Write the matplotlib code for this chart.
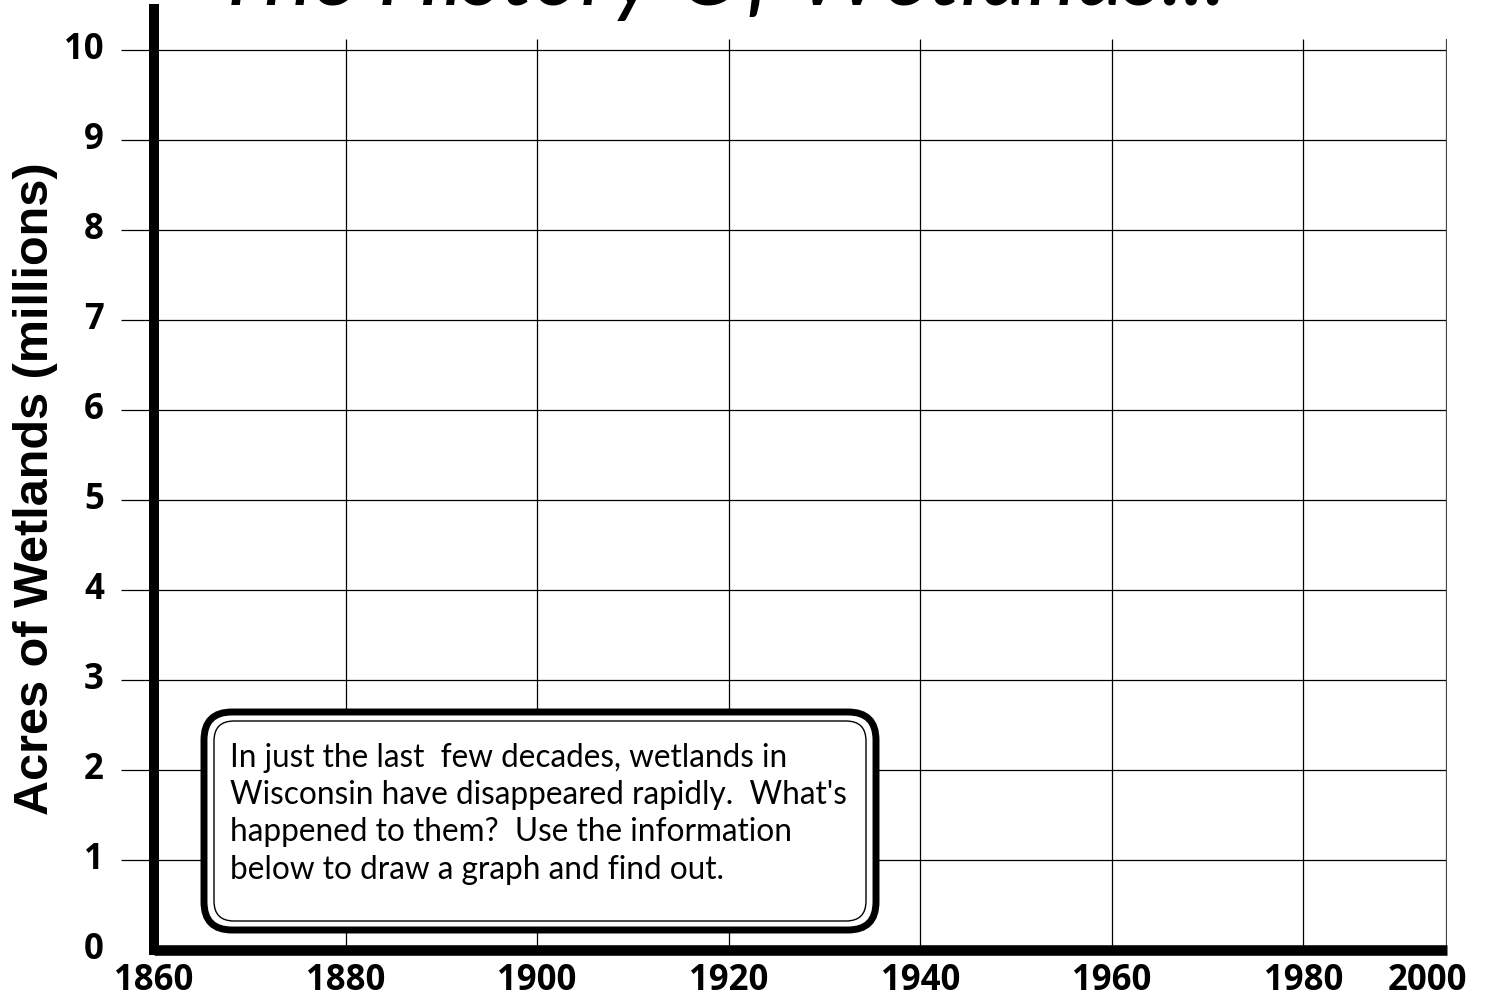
import matplotlib.pyplot as plt
from matplotlib.patches import FancyBboxPatch
from matplotlib.transforms import IdentityTransform

# ---- data ----
years = [1860, 1880, 1900, 1920, 1940, 1960, 1980]
year_labels = ["1860", "1880", "1900", "1920", "1940", "1960", "1980", "2000"]
acres = list(range(0, 11))
acre_labels = [str(a) for a in acres]

title = "The History Of Wetlands..."
ylabel = "Acres of Wetlands (millions)"
note = ("In just the last  few decades, wetlands in\n"
        "Wisconsin have disappeared rapidly.  What's\n"
        "happened to them?  Use the information\n"
        "below to draw a graph and find out.")

# ---- figure ----
W, H = 1492, 996
fig = plt.figure(figsize=(W / 100, H / 100), dpi=100)

x_right = 1995          # right edge of the grid
y_grid_top = 10.12      # where the vertical lines stop
left_px, right_px = 154, 1447
bottom_px, top_px = 950, 9
ax = fig.add_axes([left_px / W, (H - bottom_px) / H,
                   (right_px - left_px) / W, (bottom_px - top_px) / H])
ax.set_xlim(1860, x_right)
ax.set_ylim(0, (bottom_px - top_px) / 90)

# grid
ax.hlines(acres[1:], 1860, x_right, color="black", lw=0.9)
ax.hlines(acres[1:], 1856.6, 1860, color="black", lw=0.9, clip_on=False)
ax.vlines(years[1:], 0, y_grid_top, color="black", lw=0.9)
ax.vlines([x_right], 0, y_grid_top, color="#444444", lw=1.6)

# spines
for s in ["top", "right"]:
    ax.spines[s].set_visible(False)
ax.spines["left"].set_linewidth(7.2)
ax.spines["bottom"].set_linewidth(7.6)
ax.spines["bottom"].set_capstyle("butt")

# ticks
ax.set_yticks(acres)
ax.set_yticklabels(acre_labels, fontsize=25, fontweight="bold", family="Open Sans")
ax.set_xticks(years + [1993])
ax.set_xticklabels(year_labels, fontsize=25, fontweight="bold", family="Open Sans")
ax.tick_params(axis="y", length=0, pad=36)
ax.tick_params(axis="x", length=0, pad=9)
for lab in ax.get_yticklabels():
    lab.set_verticalalignment("center")

ax.set_ylabel(ylabel, fontsize=35, fontweight="bold", family="Liberation Sans")
ax.yaxis.set_label_coords(-0.074, 0.49)

# title (cut off at the top like the worksheet)
fig.text(720, H - 5, title, transform=IdentityTransform(), ha="center",
         va="baseline", fontsize=66, style="italic", family="Lato")

# note box
outer = FancyBboxPatch((204 + 26, H - 930 + 26), 672 - 52, 218 - 52,
                       boxstyle="round,pad=26,rounding_size=28",
                       transform=IdentityTransform(), fc="white", ec="black",
                       lw=5, zorder=5)
inner = FancyBboxPatch((214 + 20, H - 921 + 20), 652 - 40, 200 - 40,
                       boxstyle="round,pad=20,rounding_size=20",
                       transform=IdentityTransform(), fc="none", ec="black",
                       lw=1.0, zorder=6)
fig.add_artist(outer)
fig.add_artist(inner)
fig.text(230, H - 743, note, transform=IdentityTransform(), ha="left",
         va="top", fontsize=22.7, family="Lato", linespacing=1.3, zorder=7)

fig.savefig("out.png", dpi=100)
